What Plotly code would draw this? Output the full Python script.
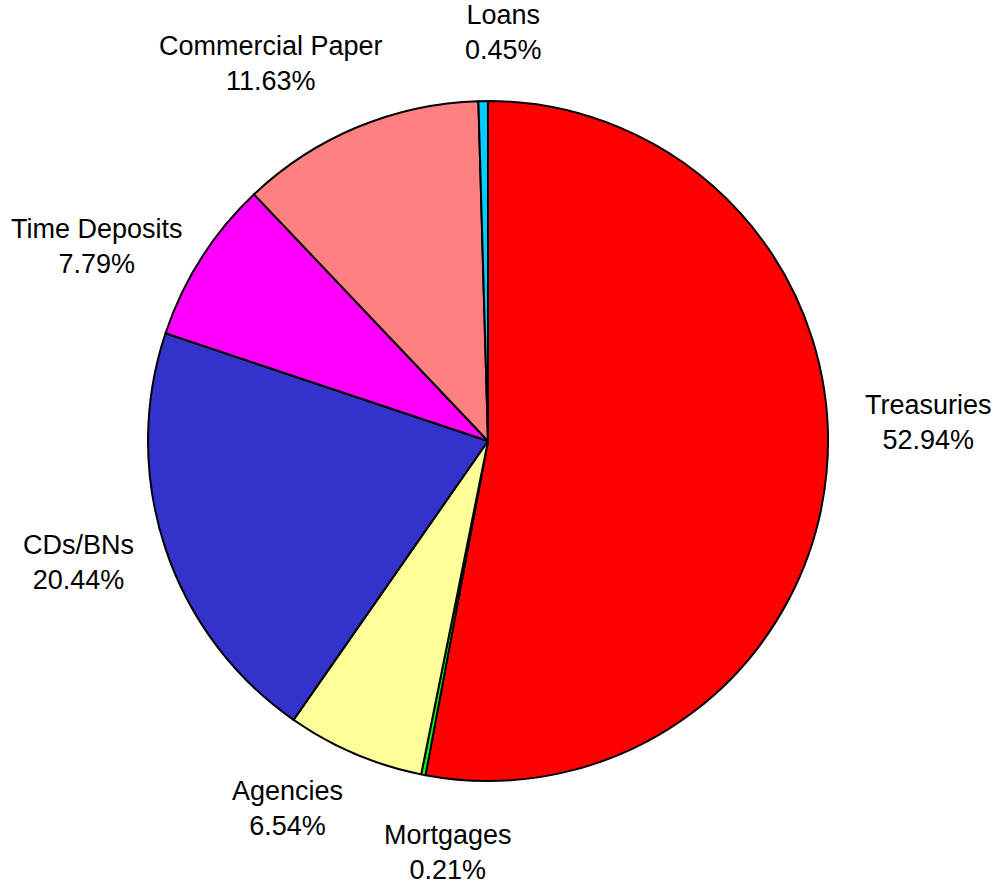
import math
import plotly.graph_objects as go

labels = ["Treasuries", "Mortgages", "Agencies", "CDs/BNs", "Time Deposits", "Commercial Paper", "Loans"]
values = [52.94, 0.21, 6.54, 20.44, 7.79, 11.63, 0.45]
colors = ["#FF0000", "#00FF00", "#FFFF99", "#3333CC", "#FF00FF", "#FF8080", "#00CCFF"]

# styling / label placement (pixels)
W, H = 1003, 884
CX, CY, R = 488, 441, 340
LABEL_R = 430
label_shift = [(12, -58), (42, -11), (-32, -28), (-1, -14), (-28, 36), (-52, 20), (22, 21)]

fig = go.Figure(go.Pie(
    labels=labels, values=values, sort=False, direction="clockwise", rotation=0,
    marker=dict(colors=colors, line=dict(color="black", width=2)),
    textinfo="none", hoverinfo="label+percent", showlegend=False,
    domain=dict(x=[(CX - R) / W, (CX + R) / W], y=[1 - (CY + R) / H, 1 - (CY - R) / H]),
))

total = sum(values)
cum = 0.0
annotations = []
for lab, v, (dx, dy) in zip(labels, values, label_shift):
    mid = (cum + v / 2) / total * 2 * math.pi
    cum += v
    px = CX + LABEL_R * math.sin(mid) + dx
    py = CY - LABEL_R * math.cos(mid) + dy
    annotations.append(dict(
        x=px / W, y=1 - py / H, xref="paper", yref="paper",
        text=f"{lab}<br>{v / total * 100:.2f}%", showarrow=False,
        xanchor="center", yanchor="middle", align="center",
        font=dict(family="Liberation Sans, Arial, sans-serif", size=27, color="black"),
    ))

fig.update_layout(
    width=W, height=H, margin=dict(l=0, r=0, t=0, b=0),
    paper_bgcolor="white", plot_bgcolor="white",
    annotations=annotations,
)
fig.write_html("out.html", config={"displayModeBar": False},
               post_script="document.body.style.margin='0';document.body.style.overflow='hidden';")
